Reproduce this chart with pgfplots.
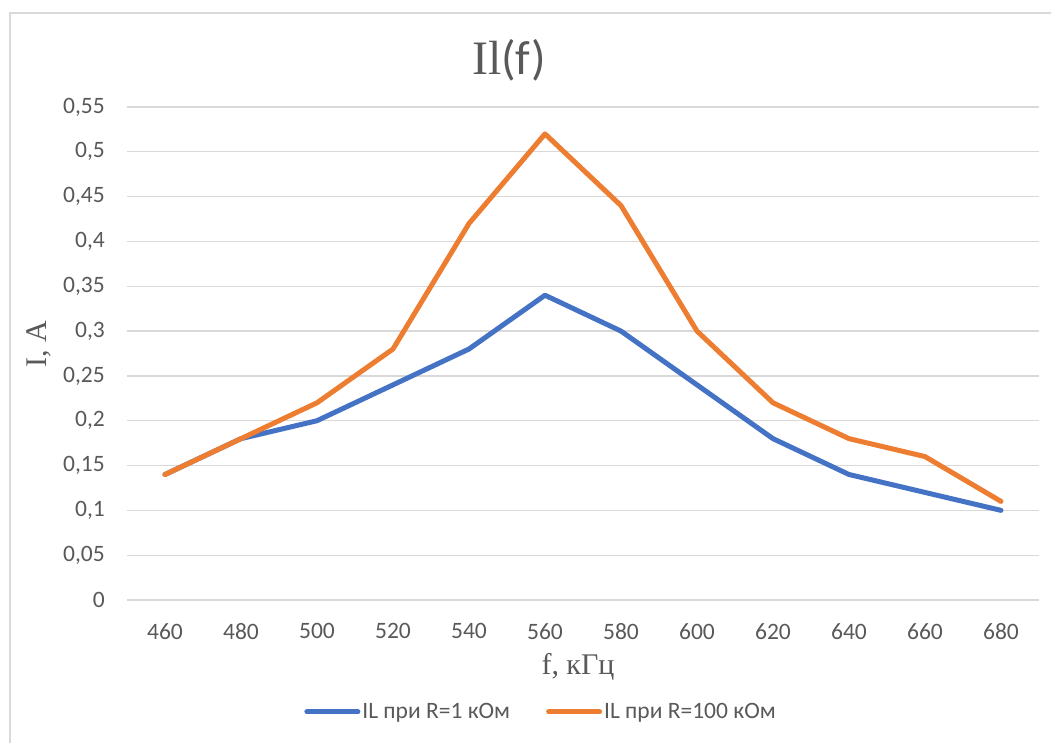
\documentclass[border=0pt]{standalone}
\usepackage{fontspec}
\setmainfont{Carlito}
\newfontfamily\serif{Liberation Serif}
\usepackage{pgfplots}
\pgfplotsset{compat=1.18}
\definecolor{exblue}{HTML}{4472C4}
\definecolor{exorange}{HTML}{ED7D31}
\definecolor{gridc}{HTML}{D9D9D9}
\definecolor{txt}{HTML}{595959}
\begin{document}
\begin{tikzpicture}
\path[use as bounding box] (-127pt,-143pt) rectangle (924pt,600pt);
\draw[gridc, line width=1.5pt] (-117pt,-143pt) -- (-117pt,587pt) -- (924pt,587pt);
\begin{axis}[
  at={(0,0)}, anchor=south west,
  scale only axis, width=912pt, height=493pt,
  xmin=-0.5, xmax=11.5, ymin=0, ymax=0.55,
  xtick={0,...,11},
  xticklabels={460,480,500,520,540,560,580,600,620,640,660,680},
  ytick={0,0.05,0.1,0.15,0.2,0.25,0.3,0.35,0.4,0.45,0.5,0.55},
  /pgf/number format/use comma,
  /pgf/number format/fixed,
  /pgf/number format/precision=2,
  /pgf/number format/assume math mode=true,
  ymajorgrids, grid style={gridc, line width=1.3pt},
  major tick length=0pt,
  axis line style={draw=none},
  tick label style={font=\fontsize{23.5}{27}\selectfont, text=txt},
  yticklabel style={anchor=east, inner sep=0pt, xshift=-22pt},
  xticklabel style={anchor=north, inner sep=0pt, yshift=-23pt},
  xlabel={\serif f, кГц},
  ylabel={\serif I, A},
  xlabel style={at={(axis description cs:0.4945,-0.152)}, anchor=base, font=\fontsize{30}{34}\selectfont, text=txt},
  ylabel style={at={(axis description cs:-0.0965,0.519)}, anchor=center, font=\fontsize{30}{34}\selectfont, text=txt},
  legend style={at={(axis description cs:0.454,-0.227)}, anchor=center, draw=none, fill=none,
    font=\fontsize{23.5}{27}\selectfont, text=txt, legend columns=2,
    /tikz/every even column/.append style={column sep=34pt}},
  legend image code/.code={\draw[#1, line width=5pt, line cap=round] (2.5pt,0pt) -- (53.5pt,0pt);},
]
\addplot[exblue, line width=5pt, line join=round, line cap=round] coordinates {
(0,0.14)(1,0.18)(2,0.20)(3,0.24)(4,0.28)(5,0.34)(6,0.30)(7,0.24)(8,0.18)(9,0.14)(10,0.12)(11,0.10)};
\addlegendentry{IL при R=1 кОм}
\addplot[exorange, line width=5pt, line join=round, line cap=round] coordinates {
(0,0.14)(1,0.18)(2,0.22)(3,0.28)(4,0.42)(5,0.52)(6,0.44)(7,0.30)(8,0.22)(9,0.18)(10,0.16)(11,0.11)};
\addlegendentry{IL при R=100 кОм}
\end{axis}
\node[anchor=base, text=txt, font=\fontsize{48}{52}\selectfont, inner sep=0pt] at (382pt,525pt) {{\serif Il}(f)};
\end{tikzpicture}
\end{document}
